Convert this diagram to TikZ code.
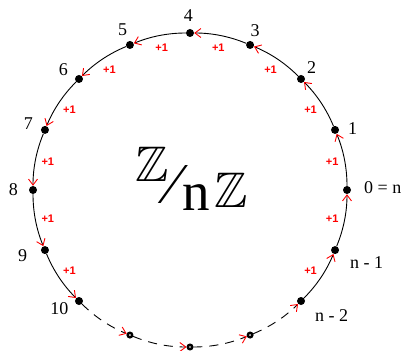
\documentclass[tikz,border=0pt]{standalone}
\usepackage{fontspec}
\usepackage{amssymb}
\setmainfont{Liberation Serif}
\newfontfamily\plusfont{Liberation Sans}
\usetikzlibrary{arrows.meta}
\begin{document}
\begin{tikzpicture}[x=1pt,y=1pt,
  dot/.style={circle,fill=black,inner sep=0pt,minimum size=8pt},
  ghost/.style={circle,draw=black,fill=white,line width=2.4pt,inner sep=0pt,minimum size=4.5pt},
  seg/.style={draw=black,line width=0.9pt,bend right=11.25,looseness=0.87,
    -{Straight Barb[red,length=6pt,width=9pt,line width=0.9pt]}},
  dseg/.style={seg,dash pattern=on 9pt off 7pt},
  lab/.style={inner sep=0pt,font=\fontsize{18}{18}\selectfont},
  plus/.style={inner sep=0pt,text=red,font=\plusfont\bfseries\fontsize{11}{11}\selectfont}]
\useasboundingbox (0,0) rectangle (406,350);
\coordinate (c) at (190,160);
% points on the circle
\foreach \k in {0,...,10,14,15} {
  \node[dot] (p\k) at ([shift={(22.5*\k:157)}]c) {};
}
\foreach \k in {11,12,13} {
  \node[ghost] (p\k) at ([shift={(22.5*\k:157)}]c) {};
}
% solid arcs
\foreach \a/\b in {0/1,1/2,2/3,3/4,4/5,5/6,6/7,7/8,8/9,9/10,14/15,15/0} {
  \draw[seg] (p\a) to (p\b);
}
% dashed arcs
\foreach \a/\b in {10/11,11/12,12/13,13/14} {
  \draw[dseg] (p\a) to (p\b);
}
% +1 labels
\foreach \k in {0,...,9,14,15} {
  \node[plus] (q\k) at ([shift={(22.5*\k+11.25:145)}]c) {+1};
}
% number labels
\node[lab] (l1) at (352.7,221.7) {1};
\node[lab] (l2) at (311.7,282.7) {2};
\node[lab] (l3) at (255,319.3) {3};
\node[lab] (l4) at (188.3,334.3) {4};
\node[lab] (l5) at (122.7,320.7) {5};
\node[lab] (l6) at (63.3,280) {6};
\node[lab] (l7) at (28.3,226.7) {7};
\node[lab] (l8) at (13.3,160) {8};
\node[lab] (l9) at (22.7,94) {9};
\node[lab] (l10) at (59.3,41.7) {10};
\node[lab,anchor=west] (l0) at (364,162) {0 = n};
\node[lab] (l15) at (366.7,87.3) {n - 1};
\node[lab] (l14) at (331.7,34) {n - 2};
% centre text Z/nZ
\node[inner sep=0pt] (z1) at (152.5,185.5) {\scalebox{5}{$\mathbb{Z}$}};
\node[inner sep=0pt,font=\fontsize{58}{58}\selectfont] (sl) at (173,165) {⁄};
\node[inner sep=0pt,font=\fontsize{55}{55}\selectfont] (nn) at (196.5,152.5) {n};
\node[inner sep=0pt] (z2) at (231.5,159.5) {\scalebox{5}{$\mathbb{Z}$}};
\end{tikzpicture}
\end{document}
